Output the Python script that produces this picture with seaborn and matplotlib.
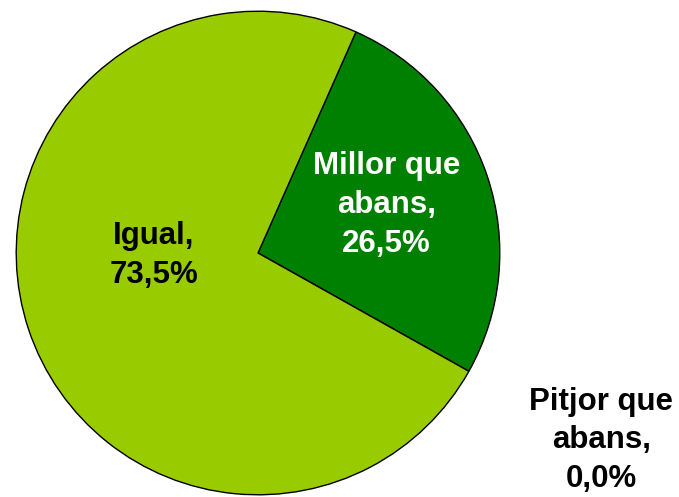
import matplotlib
matplotlib.use("Agg")
import matplotlib.pyplot as plt
import seaborn as sns

categories = ["Millor que\nabans", "Pitjor que\nabans", "Igual"]
values = [26.5, 0.0, 73.5]
colors = ["#008000", "#FF0000", "#99CC00"]

sns.set_style("white")
plt.rcParams['font.family'] = ['Liberation Sans', 'DejaVu Sans']

fig = plt.figure(figsize=(6.79, 4.97), dpi=100)
ax = fig.add_axes([15/679, 1/497, 486/679, 486/497])

wedges, _ = ax.pie(values, colors=colors, startangle=66.1, counterclock=False,
                   radius=1, wedgeprops=dict(edgecolor="black", linewidth=1))
ax.set_xlim(-1.005, 1.005)
ax.set_ylim(-1.005, 1.005)
ax.set_aspect("equal")
ax.axis("off")

# label positions (data coords) and colours
label_pos = [(0.531, 0.198), (1.42, -0.775), (-0.432, -0.01)]
label_col = ["white", "black", "black"]
for cat, val, pos, col in zip(categories, values, label_pos, label_col):
    txt = f"{cat},\n{val:.1f}%".replace(".", ",")
    ax.text(pos[0], pos[1], txt, ha="center", va="center", fontsize=22.5,
            fontweight="bold", color=col, linespacing=1.38, clip_on=False)

fig.savefig("out.png", dpi=100)
